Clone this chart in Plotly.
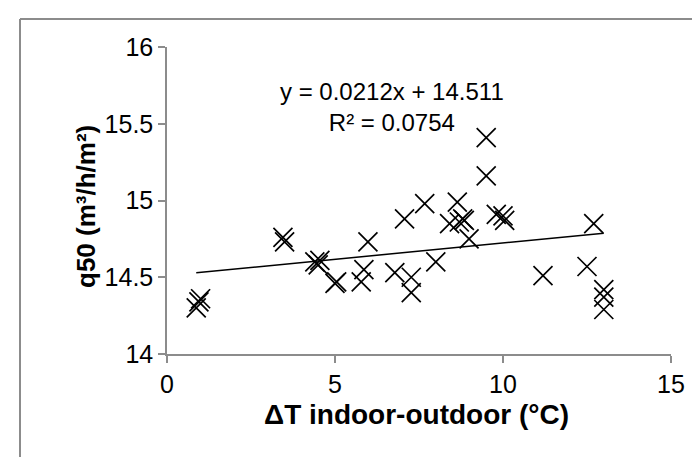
import plotly.graph_objects as go

# Temperature difference indoor-outdoor (°C) and measured q50 (m3/h/m2)
delta_t = [0.87, 0.95, 1.0, 3.45, 3.5, 4.4, 4.5, 4.55, 5.0, 5.05,
           5.98, 5.86, 5.78, 6.78, 7.07, 7.27, 7.27, 7.67, 8.0, 8.41,
           8.64, 8.7, 8.8, 8.85, 8.99, 9.5, 9.5, 9.8, 10.0, 10.05,
           11.19, 12.5, 12.7, 13.0, 13.0, 13.0]
q50 = [14.30, 14.34, 14.36, 14.76, 14.73, 14.60, 14.58, 14.61, 14.46, 14.47,
       14.73, 14.55, 14.47, 14.53, 14.88, 14.50, 14.40, 14.98, 14.60, 14.85,
       14.99, 14.86, 14.88, 14.87, 14.75, 15.41, 15.16, 14.91, 14.90, 14.87,
       14.51, 14.57, 14.85, 14.42, 14.37, 14.29]

# Excel linear trendline
slope = 0.0212
intercept = 14.511
trend_x = [min(delta_t), max(delta_t)]
trend_y = [slope * x + intercept for x in trend_x]

x_ticks = [0, 5, 10, 15]
y_ticks = [14, 14.5, 15, 15.5, 16]

W, H = 700, 457
L, R, T, B = 159, 37, 39, 111
pw, ph = W - L - R, H - T - B


def px(x):
    return (x - L) / pw


def py(y):
    return (H - B - y) / ph


tick_font = dict(family="Liberation Sans, Arial, sans-serif", size=25, color="black")
axis_grey = "#8c8c8c"

fig = go.Figure()
fig.add_trace(go.Scatter(x=delta_t, y=q50, mode="markers",
                         marker=dict(symbol="x-thin", size=19,
                                     line=dict(color="black", width=1.7)),
                         showlegend=False))
fig.add_trace(go.Scatter(x=trend_x, y=trend_y, mode="lines",
                         line=dict(color="black", width=1.5),
                         showlegend=False))

fig.update_layout(
    width=W, height=H,
    margin=dict(l=L, r=R, t=T, b=B),
    paper_bgcolor="white", plot_bgcolor="white",
    xaxis=dict(range=[0, 15], tickvals=x_ticks, showgrid=False, zeroline=False,
               showline=True, linecolor=axis_grey, linewidth=1.5,
               ticks="outside", ticklen=7, tickcolor=axis_grey, tickwidth=1.5,
               tickfont=tick_font),
    yaxis=dict(range=[14, 16], tickvals=y_ticks, ticktext=["14", "14.5", "15", "15.5", "16"],
               showgrid=False, zeroline=False,
               showline=True, linecolor=axis_grey, linewidth=1.5,
               ticks="outside", ticklen=7, tickcolor=axis_grey, tickwidth=1.5,
               tickfont=tick_font),
)

# axis titles placed as annotations
fig.add_annotation(text="<b>ΔT indoor-outdoor (°C)</b>", xref="paper", yref="paper",
                   x=px(408), y=py(424), showarrow=False,
                   font=dict(family="Liberation Sans, Arial, sans-serif", size=28, color="black"))
fig.add_annotation(text="<b>q50 (m³/h/m²)</b>", xref="paper", yref="paper",
                   x=px(61), y=py(199), showarrow=False, textangle=-90,
                   font=dict(family="Liberation Sans, Arial, sans-serif", size=26, color="black"))

# trendline label
fig.add_annotation(text=f"y = {slope}x + {intercept}<br>R² = 0.0754", xref="paper", yref="paper",
                   x=px(384), y=py(68), showarrow=False,
                   font=dict(family="Liberation Sans, Arial, sans-serif", size=24, color="black"))

# outer chart border (top and left edges visible)
fig.add_shape(type="line", xref="paper", yref="paper",
              x0=px(12), y0=py(11), x1=px(705), y1=py(11),
              line=dict(color=axis_grey, width=2))
fig.add_shape(type="line", xref="paper", yref="paper",
              x0=px(12), y0=py(11), x1=px(12), y1=py(465),
              line=dict(color=axis_grey, width=2))

fig.write_html("out.html")
